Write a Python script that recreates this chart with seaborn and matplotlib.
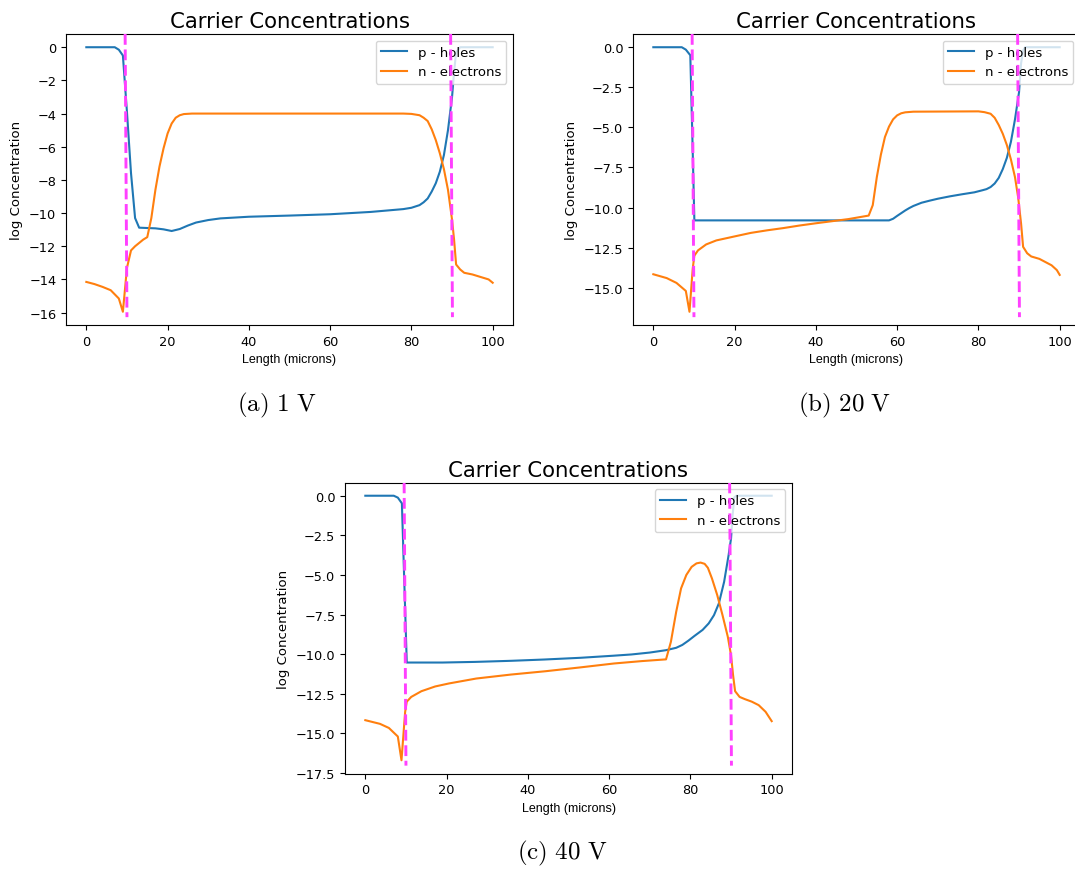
import matplotlib.pyplot as plt
import seaborn as sns

# ---- panel (a) 1 V ----
x_a_p = [0, 7, 8, 9, 10, 11, 12, 13, 17, 19, 21, 23, 25, 27, 30, 33, 40, 50, 60, 70,
         78, 80, 82, 83, 84, 85, 86, 87, 88, 89, 90, 90.5, 91, 92, 100]
y_a_p = [0, 0, -0.15, -0.5, -3.9, -7.6, -10.3, -10.88, -10.92, -10.98, -11.08, -10.96,
         -10.75, -10.57, -10.42, -10.32, -10.22, -10.15, -10.07, -9.93,
         -9.76, -9.68, -9.52, -9.35, -9.12, -8.7, -8.2, -7.5, -6.5, -5.0, -3.0, -1.5, -0.3, 0, 0]
x_a_n = [0, 2, 4, 6, 8, 9, 10, 11, 12, 13, 14, 15, 16, 17, 18, 19, 20, 21, 22, 23, 24, 26,
         30, 78, 80, 82, 83, 84, 85, 86, 87, 88, 89, 90, 90.5, 91, 92, 93, 95, 97, 99, 100]
y_a_n = [-14.15, -14.28, -14.45, -14.65, -15.15, -15.95, -13.3, -12.25, -12.0, -11.8, -11.6,
         -11.45, -10.3, -8.6, -7.2, -6.1, -5.2, -4.6, -4.25, -4.1, -4.03, -4.0,
         -4.0, -4.0, -4.02, -4.1, -4.25, -4.45, -4.95, -5.6, -6.4, -7.35, -8.6, -10.4, -11.6,
         -13.1, -13.4, -13.6, -13.7, -13.85, -14.0, -14.2]

# ---- panel (b) 20 V ----
x_b_p = [0, 7, 8, 9.1, 9.6, 10.1, 20, 40, 58, 59, 60, 61, 62, 63, 64, 66, 68, 70, 73, 76,
         79, 81, 82, 83, 84, 85, 86, 87, 88, 89, 90, 90.5, 91, 91.5, 100]
y_b_p = [0, 0, -0.15, -0.5, -5.5, -10.8, -10.8, -10.8, -10.8, -10.7, -10.52, -10.35, -10.18,
         -10.03, -9.9, -9.7, -9.57, -9.45, -9.3, -9.17,
         -9.05, -8.92, -8.85, -8.72, -8.5, -8.15, -7.6, -6.9, -5.9, -4.5, -2.8, -1.0, -0.2, 0, 0]
x_b_n = [0, 3.3, 5.7, 8, 8.9, 9.7, 10.1, 11, 13, 15.5, 20, 24, 28, 32, 36, 40, 44, 48, 53,
         54, 55, 56, 57, 58, 59, 60, 61, 62, 64, 80, 81.5, 83, 84, 85, 86, 87, 88, 89, 89.8,
         90.5, 91, 92, 93, 95, 96.5, 98, 99.3, 100]
y_b_n = [-14.16, -14.4, -14.7, -15.2, -16.5, -13.8, -13.0, -12.67, -12.3, -12.05, -11.8,
         -11.58, -11.42, -11.28, -11.12, -10.98, -10.85, -10.72, -10.5,
         -9.85, -8.1, -6.7, -5.6, -4.95, -4.5, -4.25, -4.12, -4.06, -4.02, -4.0, -4.05, -4.15,
         -4.4, -4.85, -5.4, -6.1, -7.0, -8.1, -9.4,
         -11.0, -12.45, -12.85, -13.05, -13.2, -13.4, -13.6, -13.9, -14.2]

# ---- panel (c) 40 V ----
x_c_p = [0, 7, 8, 9, 9.6, 10.2, 19, 27, 36, 44, 53, 61, 65.5, 70, 74, 76.5, 78, 79.5, 81,
         83, 84.5, 85.8, 87, 88.3, 89.4, 90, 90.4, 90.8, 91.3, 100]
y_c_p = [0, 0, -0.12, -0.48, -5.5, -10.53, -10.53, -10.49, -10.42, -10.34, -10.23, -10.1,
         -10.02, -9.9, -9.75, -9.6, -9.42, -9.15, -8.85,
         -8.47, -8.06, -7.54, -6.8, -5.43, -3.75, -2.7, -1.2, -0.1, 0, 0]
x_c_n = [0, 3.6, 5.8, 8, 8.9, 9.8, 10.2, 11.3, 13.8, 17.2, 20.6, 27.3, 35.8, 44.3, 52.8,
         61.2, 68, 74, 75.2, 76.5, 77.7, 79, 80.3, 81.5, 82.5, 83.5, 84.3, 85.3, 86.6,
         87.9, 89.2, 90, 90.5, 91, 92.1, 93.4, 95.1, 96.8, 98.5, 100]
y_c_n = [-14.17, -14.4, -14.66, -15.2, -16.7, -13.65, -13.0, -12.7, -12.34, -12.04, -11.85,
         -11.54, -11.29, -11.08, -10.84, -10.59, -10.44, -10.33, -9.22, -7.33, -5.85, -5.0,
         -4.49, -4.27, -4.22, -4.3, -4.55, -5.22, -6.27, -7.54, -8.9, -10.07, -11.33,
         -12.34, -12.7, -12.84, -13.0, -13.22, -13.64, -14.23]

# junction boundaries (slightly slanted in the source)
junction_top = [9.55, 89.65]
junction_bottom = [10.0, 90.1]

captions = [r'$\mathrm{(a)\ 1\ V}$', r'$\mathrm{(b)\ 20\ V}$', r'$\mathrm{(c)\ 40\ V}$']

plt.rcParams['mathtext.fontset'] = 'cm'
palette = sns.color_palette('tab10')

W, H = 1075, 870
fig = plt.figure(figsize=(W / 100, H / 100), dpi=100)


def px_axes(left, top, width=447, height=291):
    return fig.add_axes([left / W, 1 - (top + height) / H, width / W, height / H])


panels = [
    (px_axes(66, 35), x_a_p, y_a_p, x_a_n, y_a_n),
    (px_axes(633, 35), x_b_p, y_b_p, x_b_n, y_b_n),
    (px_axes(345, 483.5), x_c_p, y_c_p, x_c_n, y_c_n),
]

for ax, xp, yp, xn, yn in panels:
    sns.lineplot(x=xp, y=yp, ax=ax, color=palette[0], lw=1.5, estimator=None,
                 sort=False, label='p - holes')
    sns.lineplot(x=xn, y=yn, ax=ax, color=palette[1], lw=1.5, estimator=None,
                 sort=False, label='n - electrons')
    for xt, xb in zip(junction_top, junction_bottom):
        ax.plot([xt, xb], [1, 0.027], transform=ax.get_xaxis_transform(),
                color='#ff40ff', lw=2.1, ls='--', zorder=6, scalex=False, scaley=False)
    ax.set_title('Carrier Concentrations', fontsize=15.3, pad=5)
    ax.set_ylabel('log Concentration', fontsize=9.5)
    ax.set_xlabel('Length (microns)', fontsize=9, family='Liberation Sans')
    ax.tick_params(labelsize=9.3)
    ax.legend(loc='upper right', fontsize=9.5)

fig.text(277 / W, 1 - 405 / H, captions[0], fontsize=18, ha='center', va='center')
fig.text(845 / W, 1 - 405 / H, captions[1], fontsize=18, ha='center', va='center')
fig.text(562 / W, 1 - 853 / H, captions[2], fontsize=18, ha='center', va='center')

fig.savefig('out.png', dpi=100)
